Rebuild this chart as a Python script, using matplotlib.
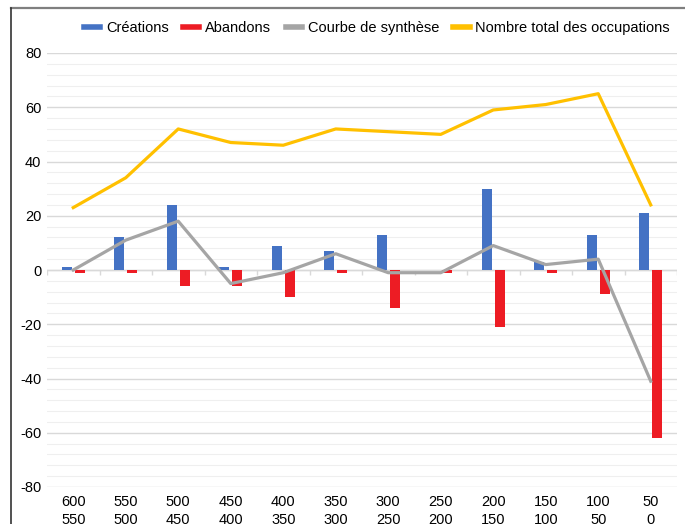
import numpy as np
import matplotlib.pyplot as plt
from matplotlib.lines import Line2D
from matplotlib.ticker import MultipleLocator

plt.rcParams['font.family'] = ['Liberation Sans', 'DejaVu Sans']
plt.rcParams['font.size'] = 10
plt.rcParams['axes.unicode_minus'] = False

# tranches (deux lignes par étiquette)
tranches_haut = ['600', '550', '500', '450', '400', '350', '300', '250', '200', '150', '100', '50']
tranches_bas = ['550', '500', '450', '400', '350', '300', '250', '200', '150', '100', '50', '0']

creations = [1, 12, 24, 1, 9, 7, 13, 0, 30, 3, 13, 21]
abandons = [-1, -1, -6, -6, -10, -1, -14, -1, -21, -1, -9, -62]
synthese = [0, 11, 18, -5, -1, 6, -1, -1, 9, 2, 4, -41]
total = [23, 34, 52, 47, 46, 52, 51, 50, 59, 61, 65, 24]

noms = ['Créations', 'Abandons', 'Courbe de synthèse', 'Nombre total des occupations']

c_blue = '#4472c4'
c_red = '#ed1c24'
c_gray = '#a5a5a5'
c_yellow = '#ffc000'

fig = plt.figure(figsize=(6.85, 5.24), dpi=100)
ax = fig.add_axes([47 / 685, 1 - 487 / 524, 630 / 685, (487 - 53) / 524])

x = np.arange(len(creations))
w = 0.19
off = 0.125

ax.bar(x - off, creations, width=w, color=c_blue, zorder=3)
ax.bar(x + off, abandons, width=w, color=c_red, zorder=3)
ax.plot(x, synthese, color=c_gray, lw=2.3, zorder=4)
ax.plot(x, total, color=c_yellow, lw=2.3, zorder=4)

# axe zéro avec petites graduations entre catégories
ax.axhline(0, color='#d9d9d9', lw=1, zorder=2)
bounds = np.arange(len(creations) + 1) - 0.5
ax.vlines(bounds, -1.9, 0, color='#d9d9d9', lw=1, zorder=2)

ax.set_xlim(-0.5, len(creations) - 0.5)
ax.set_ylim(-80, 80)
ax.yaxis.set_major_locator(MultipleLocator(20))
ax.yaxis.set_minor_locator(MultipleLocator(4))
ax.grid(axis='y', which='major', color='#d9d9d9', lw=1, zorder=0)
ax.grid(axis='y', which='minor', color='#efefef', lw=0.8, zorder=0)
ax.set_axisbelow(True)

ax.set_xticks(x)
ax.set_xticklabels([f'{a}\n{b}' for a, b in zip(tranches_haut, tranches_bas)], linespacing=1.35)
ax.tick_params(axis='both', which='both', length=0, labelsize=10.5, colors='#000000')
ax.tick_params(axis='x', pad=6)
ax.tick_params(axis='y', pad=4)
for s in ax.spines.values():
    s.set_visible(False)

handles = [Line2D([0], [0], color=c, lw=4) for c in (c_blue, c_red, c_gray, c_yellow)]
fig.legend(handles, noms, loc='center', bbox_to_anchor=(377 / 685, 1 - 28 / 524), ncol=4,
           frameon=False, handlelength=1.1, handletextpad=0.4, columnspacing=1.0, fontsize=10.5)

# cadre
fig.add_artist(Line2D([11 / 685, 1], [1 - 8 / 524, 1 - 8 / 524], color='#7f7f7f', lw=1.6))
fig.add_artist(Line2D([11 / 685, 11 / 685], [0, 1 - 8 / 524], color='#333333', lw=1.2))

fig.savefig('out.png', dpi=100)
